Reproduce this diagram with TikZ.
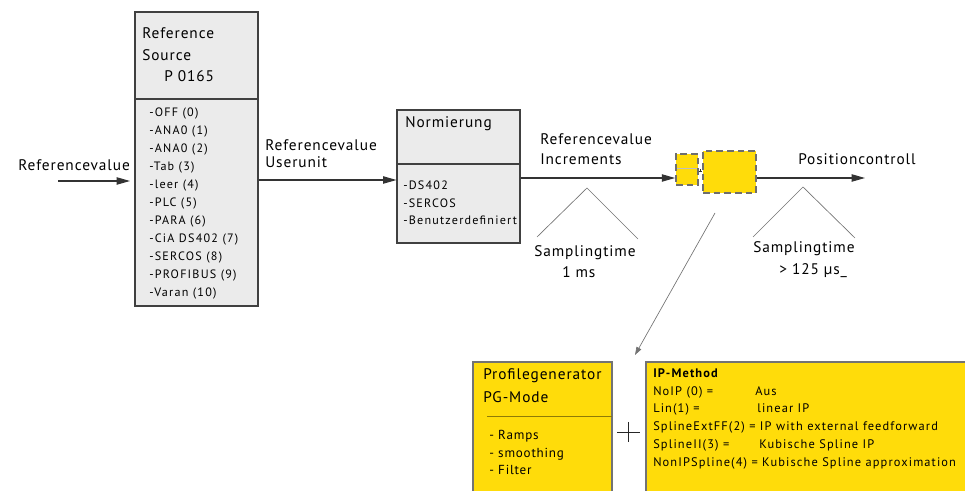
\documentclass[tikz,border=0pt]{standalone}
\usepackage{fontspec}
\setmainfont{PT Sans}
\newfontfamily\lblfont{PT Sans}[LetterSpace=6]
\newfontfamily\itemfont{PT Sans}[LetterSpace=10]
\newfontfamily\ipfont{PT Sans}[LetterSpace=9]
\usetikzlibrary{arrows.meta,fit}
\definecolor{boxgray}{HTML}{EBEBEB}
\definecolor{ygold}{HTML}{FFDC0A}
\definecolor{dashgray}{HTML}{6E6E6E}
\begin{document}
\begin{tikzpicture}[x=0.75pt,y=-0.75pt,
  graybox/.style={draw=black!75, fill=boxgray, line width=0.8pt, inner sep=0pt},
  yellowbox/.style={draw=black!55, fill=ygold, line width=0.9pt, inner sep=0pt},
  dashbox/.style={draw=dashgray, fill=ygold, line width=1.3pt, dash pattern=on 5pt off 3pt, inner sep=0pt},
  lbl/.style={anchor=base west, inner sep=0pt, font=\lblfont\fontsize{11.5}{13}\selectfont},
  item/.style={anchor=base west, inner sep=0pt, font=\itemfont\fontsize{9.1}{10}\selectfont},
  pgitem/.style={anchor=base west, inner sep=0pt, font=\lblfont\fontsize{9.8}{11}\selectfont},
  ipitem/.style={anchor=base west, inner sep=0pt, font=\ipfont\fontsize{9.3}{11}\selectfont},
  flow/.style={-{Triangle[length=10pt,width=5.5pt]}, line width=0.8pt, draw=black!80},
  thinline/.style={draw=black!55, line width=0.5pt}]
\useasboundingbox (0,0) rectangle (965,491);
\clip (0,0) rectangle (965,491);

% ---------- Reference source box ----------
\node[graybox, fit={(135,12) (258,306)}] (ref) {};
\draw[black!75, line width=0.8pt] (135,99) -- (258,99);
\node[lbl] (refT1) at (142,39) {Reference};
\node[lbl] (refT2) at (142,61) {Source};
\node[lbl] (refT3) at (164,82) {P 0165};
\foreach \t [count=\i from 0] in {-OFF (0),-ANA0 (1),-ANA0 (2),-Tab (3),-leer (4),-PLC (5),-PARA (6),-CiA DS402 (7),-SERCOS (8),-PROFIBUS (9),-Varan (10)}
  \node[item] (refI\i) at (149,117+18*\i) {\t};

% ---------- Normierung box ----------
\node[graybox, fit={(397,110) (520,243)}] (norm) {};
\draw[black!75, line width=0.8pt] (397,164) -- (520,164);
\node[lbl] (normT) at (405,128) {Normierung};
\node[item] (normI1) at (403,190) {-DS402};
\node[item] (normI2) at (403,207.5) {-SERCOS};
\node[item] (normI3) at (403,225) {-Benutzerdefiniert};

% ---------- small dashed yellow boxes ----------
\node[dashbox, fit={(676,154) (698,185)}] (ipA) {};
\draw[black!25, line width=0.6pt] (677,168) -- (697,168);
\node[dashbox, fit={(703,151) (756,193)}] (ipB) {};
\draw[black!80, line width=0.4pt] (698.5,171) -- (701.5,171) (700,169.5) -- (700,172.5);

% ---------- flow arrows ----------
\coordinate (in) at (58,181);
\draw[flow] (in) -- (130,181);
\node[lbl, anchor=base west] (lblIn) at (18,171) {Referencevalue};

\draw[flow] (ref.east |- 0,180) -- (norm.west |- 0,180);
\node[lbl] (lblU1) at (265,151) {Referencevalue};
\node[lbl] (lblU2) at (265,168) {Userunit};

\draw[flow] (norm.east |- 0,178) -- (ipA.west |- 0,178);
\node[lbl] (lblI1) at (540,145) {Referencevalue};
\node[lbl] (lblI2) at (540,165) {Increments};

\coordinate (out) at (865,178);
\draw[flow] (ipB.east |- out) -- (out);
\node[lbl] (lblP) at (798,165) {Positioncontroll};

% ---------- sampling time brackets ----------
\draw[thinline] (537,237) -- (587,188) -- (638,239);
\node[lbl] (st1a) at (534,257) {Samplingtime};
\node[lbl] (st1b) at (562,278) {1 ms};

\draw[thinline] (753,237) -- (803,187) -- (855,238);
\node[lbl] (st2a) at (753,253) {Samplingtime};
\node[lbl] (st2b) at (779,275) {> 125 µs\_};

% ---------- bottom boxes ----------
\node[yellowbox, fit={(473,362) (612,500)}] (pg) {};
\draw[black!30!ygold!80!black, line width=0.6pt] (487,416) -- (612,416);
\node[lbl] (pgT1) at (483,380) {Profilegenerator};
\node[lbl] (pgT2) at (483,403) {PG-Mode};
\node[pgitem] (pgI1) at (489,440) {- Ramps};
\node[pgitem] (pgI2) at (489,457.5) {- smoothing};
\node[pgitem] (pgI3) at (489,475) {- Filter};

\draw[black!85, line width=0.6pt] (617,432) -- (640,432) (628.5,422) -- (628.5,442);

\node[yellowbox, fit={(646,362) (975,500)}] (ip) {};
\node[ipitem, font=\ipfont\fontsize{9.3}{11}\selectfont\bfseries] (ipT) at (653,378) {IP-Method};
\node[ipitem] (ip1a) at (653,396) {NoIP (0) =};
\node[ipitem] (ip1b) at (755,396) {Aus};
\node[ipitem] (ip2a) at (653,413) {Lin(1) =};
\node[ipitem] (ip2b) at (757,413) {linear IP};
\node[ipitem] (ip3) at (653,431) {SplineExtFF(2) = IP with external feedforward};
\node[ipitem] (ip4a) at (653,449) {SplineII(3) =};
\node[ipitem] (ip4b) at (759,449) {Kubische Spline IP};
\node[ipitem] (ip5) at (653,467) {NonIPSpline(4) = Kubische Spline approximation};

% ---------- link arrow to bottom ----------
\coordinate (linkS) at (715,213);
\coordinate (linkE) at (635,355);
\draw[thinline, -{Triangle[length=6pt,width=4pt]}] (linkS) -- (linkE);
\end{tikzpicture}
\end{document}
